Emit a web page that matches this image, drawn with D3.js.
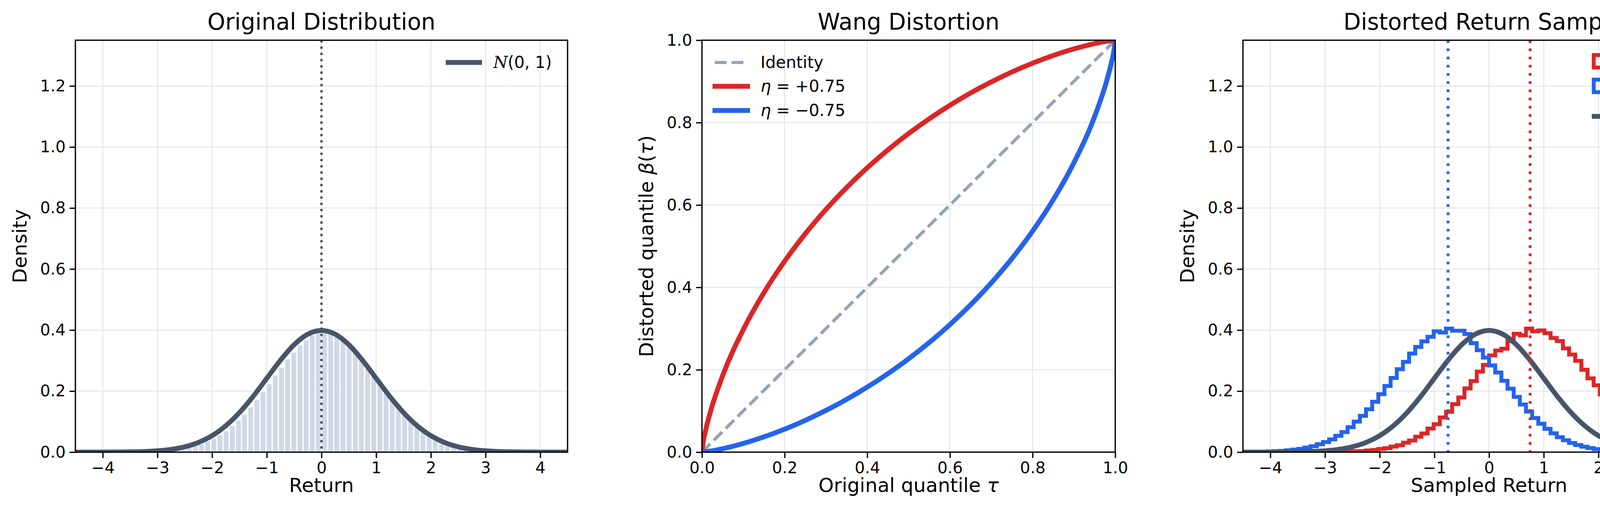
<!DOCTYPE html>
<html><head><meta charset="utf-8">
<script src="https://cdn.jsdelivr.net/npm/d3@7"></script>
<style>body{margin:0;background:#fff}svg{font-family:"DejaVu Sans",sans-serif}</style>
</head><body><svg id="c" width="4470" height="1319"></svg>
<script>
// ---- data ----
const binStart = -4.5, binWidth = 0.1125;
// Panel 1: histogram of original samples (80 bins from -4.5 to 4.5)
const origHist = [0,0,0,0,0.0001,0,0.0002,0.0003,0.0005,0.0008,0.0011,0.0016,0.0022,0.0034,0.0047,0.0066,0.0088,0.0121,0.0159,0.0215,0.0276,0.0360,0.0455,0.0578,0.0710,0.0870,0.1060,0.1250,0.1485,0.1720,0.1990,0.2250,0.2530,0.2790,0.3060,0.3285,0.3510,0.3685,0.3840,0.3930,
0.3980,0.3935,0.3830,0.3695,0.3500,0.3290,0.3060,0.2790,0.2520,0.2260,0.1985,0.1720,0.1490,0.1255,0.1050,0.0875,0.0712,0.0575,0.0455,0.0356,0.0280,0.0212,0.0162,0.0119,0.0090,0.0064,0.0047,0.0033,0.0023,0.0016,0.0011,0.0008,0.0005,0.0003,0.0002,0.0001,0.0001,0,0,0];
// Panel 3: histograms of distorted samples
const redHist = [0,0,0,0,0,0,0,0,0,0,0,0.0001,0.0002,0.0003,0.0005,0.0008,0.0013,0.0018,0.0028,0.0035,0.0054,0.0071,0.0104,0.0130,0.0183,0.0226,0.0310,0.0380,0.0505,0.0610,0.0775,0.0915,0.1135,0.1320,0.1575,0.1790,0.2090,0.2330,0.2640,0.2860,0.3170,0.3330,0.3390,0.3640,0.3880,0.3830,0.4050,0.3960,0.3990,0.3900,0.3740,0.3640,0.3400,0.3200,0.2990,0.2700,0.2420,0.2190,0.1890,0.1660,0.1390,0.1200,0.0980,0.0825,0.0650,0.0540,0.0415,0.0335,0.0250,0.0200,0.0145,0.0112,0.0078,0.0061,0.0040,0.0031,0.0020,0.0014,0.0009,0.0005];
const blueHist = [0.0004,0.0007,0.0010,0.0014,0.0022,0.0030,0.0041,0.0060,0.0083,0.0108,0.0150,0.0195,0.0258,0.0328,0.0420,0.0535,0.0660,0.0820,0.1000,0.1190,0.1405,0.1650,0.1900,0.2170,0.2430,0.2720,0.2960,0.3230,0.3450,0.3630,0.3780,0.3960,0.3920,0.4050,0.3980,0.3980,0.3870,0.3570,0.3340,0.3100,0.2840,0.2610,0.2340,0.2080,0.1810,0.1560,0.1330,0.1120,0.0930,0.0765,0.0618,0.0490,0.0390,0.0300,0.0235,0.0180,0.0134,0.0100,0.0072,0.0052,0.0037,0.0026,0.0018,0.0013,0.0008,0.0005,0.0003,0.0002,0.0001,0.0001,0,0,0,0,0,0,0,0,0,0];
// Standard normal density curve
const normX = [-4.5,-4.25,-4,-3.75,-3.5,-3.25,-3,-2.75,-2.5,-2.25,-2,-1.75,-1.5,-1.25,-1,-0.75,-0.5,-0.25,0,0.25,0.5,0.75,1,1.25,1.5,1.75,2,2.25,2.5,2.75,3,3.25,3.5,3.75,4,4.25,4.5];
const normY = [0.00002,0.00005,0.0001,0.0004,0.0009,0.0020,0.0044,0.0091,0.0175,0.0317,0.0540,0.0863,0.1295,0.1826,0.2420,0.3011,0.3521,0.3867,0.3989,0.3867,0.3521,0.3011,0.2420,0.1826,0.1295,0.0863,0.0540,0.0317,0.0175,0.0091,0.0044,0.0020,0.0009,0.0004,0.0001,0.00005,0.00002];
// Panel 2: Wang distortion
const tau = [0,0.001,0.01,0.02,0.05,0.1,0.15,0.2,0.25,0.3,0.35,0.4,0.45,0.5,0.55,0.6,0.65,0.7,0.75,0.8,0.85,0.9,0.95,0.98,0.99,0.999,1];
const betaPos = [0,0.0096,0.0575,0.0962,0.1855,0.2975,0.3873,0.4635,0.5301,0.5892,0.6423,0.6903,0.7338,0.7734,0.8094,0.8421,0.8719,0.8987,0.9229,0.9443,0.9630,0.9789,0.9917,0.9975,0.9990,0.9999,1];
const betaNeg = [0,0.0001,0.0010,0.0025,0.0083,0.0211,0.0370,0.0557,0.0771,0.1013,0.1281,0.1579,0.1906,0.2266,0.2662,0.3097,0.3577,0.4108,0.4699,0.5365,0.6127,0.7025,0.8145,0.9038,0.9425,0.9904,1];
const etaPos = 0.75, etaNeg = -0.75;
const retTicks = [-4,-3,-2,-1,0,1,2,3,4];
const densTicks = [0,0.2,0.4,0.6,0.8,1.0,1.2];
const qTicks = [0,0.2,0.4,0.6,0.8,1.0];

// ---- drawing ----
const svg = d3.select("#c");
const T = 103, B = 1158;
const C = {slate:"#475569", fill:"#cbd5e1", red:"#dc2626", blue:"#2563eb", id:"#94a3b8", grid:"#e8e8e8"};
const fmt = d3.format(".1f");

function panel(x0, x1, xd, yd, xt, yt, title, xlab, ylab){
  const g = svg.append("g");
  const x = d3.scaleLinear().domain(xd).range([x0,x1]);
  const y = d3.scaleLinear().domain(yd).range([B,T]);
  xt.forEach(t=>g.append("line").attr("x1",x(t)).attr("x2",x(t)).attr("y1",T).attr("y2",B).attr("stroke",C.grid).attr("stroke-width",3));
  yt.forEach(t=>g.append("line").attr("x1",x0).attr("x2",x1).attr("y1",y(t)).attr("y2",y(t)).attr("stroke",C.grid).attr("stroke-width",3));
  const plot = g.append("g");
  const clip = "clip"+Math.round(x0);
  svg.append("clipPath").attr("id",clip).append("rect").attr("x",x0).attr("y",T).attr("width",x1-x0).attr("height",B-T);
  plot.attr("clip-path",`url(#${clip})`);
  const isRet = xd[1]>2;
  const ax = g.append("g").attr("transform",`translate(0,${B})`).call(d3.axisBottom(x).tickValues(xt).tickSize(15).tickPadding(10));
  const ay = g.append("g").attr("transform",`translate(${x0},0)`).call(d3.axisLeft(y).tickValues(yt).tickFormat(fmt).tickSize(15).tickPadding(10));
  [ax,ay].forEach(a=>{a.selectAll("text").attr("font-size",41).attr("font-family","DejaVu Sans").attr("fill","#000");a.selectAll("line").attr("stroke-width",3.3);a.select(".domain").remove();});
  ax.selectAll("text").text(d=>isRet?String(d).replace("-","\u2212"):fmt(d));
  g.append("rect").attr("x",x0).attr("y",T).attr("width",x1-x0).attr("height",B-T).attr("fill","none").attr("stroke","#000").attr("stroke-width",3.3);
  g.append("text").attr("x",(x0+x1)/2).attr("y",76).attr("text-anchor","middle").attr("font-size",58).text(title);
  g.append("text").attr("x",(x0+x1)/2).attr("y",1260).attr("text-anchor","middle").attr("font-size",50).html(xlab);
  g.append("text").attr("transform",`translate(${x0-125},${(T+B)/2}) rotate(-90)`).attr("text-anchor","middle").attr("font-size",50).html(ylab);
  return {g, plot, x, y, legend:g.append("g")};
}
function normLabel(sel,x,y){
  const t = sel.append("text").attr("x",x).attr("y",y+14).attr("font-size",42);
  t.append("tspan").attr("font-family","DejaVu Serif").attr("font-style","italic").text("N");
  t.append("tspan").text("(0, 1)");
}
function etaLabel(sel,x,y,s){
  const t = sel.append("text").attr("x",x).attr("y",y+14).attr("font-size",42);
  t.append("tspan").attr("font-style","italic").text("η");
  t.append("tspan").text(" = "+s);
}
const bins = d3.range(80).map(i=>binStart+i*binWidth);

// Panel 1
const p1 = panel(193,1453,[-4.5,4.5],[0,1.35],retTicks,densTicks,"Original Distribution","Return","Density");
p1.plot.selectAll("rect.b").data(origHist).join("rect")
  .attr("x",(d,i)=>p1.x(bins[i])).attr("width",p1.x(binWidth)-p1.x(0))
  .attr("y",d=>p1.y(d)).attr("height",d=>p1.y(0)-p1.y(d))
  .attr("fill",C.fill).attr("fill-opacity",0.9).attr("stroke","#fff").attr("stroke-width",3);
p1.plot.append("line").attr("x1",p1.x(0)).attr("x2",p1.x(0)).attr("y1",T).attr("y2",B).attr("stroke",C.slate).attr("stroke-width",6).attr("stroke-dasharray","6 10");
const lineN = (p)=>d3.line().x((d,i)=>p.x(normX[i])).y(d=>p.y(d)).curve(d3.curveCatmullRom);
p1.plot.append("path").datum(normY).attr("d",lineN(p1)).attr("fill","none").attr("stroke",C.slate).attr("stroke-width",12.5);
p1.legend.append("line").attr("x1",1141).attr("x2",1234).attr("y1",160).attr("y2",160).attr("stroke",C.slate).attr("stroke-width",12.5);
normLabel(p1.legend,1263,160);

// Panel 2
const p2 = panel(1797,2855,[0,1],[0,1],qTicks,qTicks,"Wang Distortion",
  'Original quantile <tspan font-style="italic">τ</tspan>','Distorted quantile <tspan font-style="italic">β</tspan>(<tspan font-style="italic">τ</tspan>)');
const lq = d3.line().x((d,i)=>p2.x(tau[i])).y(d=>p2.y(d)).curve(d3.curveMonotoneX);
p2.plot.append("path").datum(tau).attr("d",lq).attr("fill","none").attr("stroke",C.id).attr("stroke-width",8).attr("stroke-dasharray","30 13");
p2.plot.append("path").datum(betaPos).attr("d",lq).attr("fill","none").attr("stroke",C.red).attr("stroke-width",12.5);
p2.plot.append("path").datum(betaNeg).attr("d",lq).attr("fill","none").attr("stroke",C.blue).attr("stroke-width",12.5);
p2.legend.append("line").attr("x1",1830).attr("x2",1905).attr("y1",160).attr("y2",160).attr("stroke",C.id).attr("stroke-width",8).attr("stroke-dasharray","30 13");
p2.legend.append("line").attr("x1",1824).attr("x2",1920).attr("y1",221).attr("y2",221).attr("stroke",C.red).attr("stroke-width",12.5);
p2.legend.append("line").attr("x1",1824).attr("x2",1920).attr("y1",283).attr("y2",283).attr("stroke",C.blue).attr("stroke-width",12.5);
p2.legend.append("text").attr("x",1947).attr("y",174).attr("font-size",42).text("Identity");
etaLabel(p2.legend,1947,221,"+0.75");
etaLabel(p2.legend,1947,283,"\u22120.75");

// Panel 3
const p3 = panel(3182,4442,[-4.5,4.5],[0,1.35],retTicks,densTicks,"Distorted Return Samples","Sampled Return","Density");
function stepPath(p,h){
  const pts=[[bins[0],0]];
  h.forEach((v,i)=>{pts.push([bins[i],v]);pts.push([bins[i]+binWidth,v]);});
  pts.push([bins[79]+binWidth,0]);
  return d3.line().x(d=>p.x(d[0])).y(d=>p.y(d[1]))(pts);
}
p3.plot.append("path").attr("d",stepPath(p3,redHist)).attr("fill","none").attr("stroke",C.red).attr("stroke-width",10);
p3.plot.append("path").attr("d",stepPath(p3,blueHist)).attr("fill","none").attr("stroke",C.blue).attr("stroke-width",10);
p3.plot.append("path").datum(normY).attr("d",lineN(p3)).attr("fill","none").attr("stroke",C.slate).attr("stroke-width",12.5);
[[etaPos,C.red],[etaNeg,C.blue]].forEach(([v,c])=>p3.plot.append("line").attr("x1",p3.x(v)).attr("x2",p3.x(v)).attr("y1",T).attr("y2",B).attr("stroke",c).attr("stroke-width",7).attr("stroke-dasharray","7 14"));
p3.legend.append("rect").attr("x",4080).attr("y",141).attr("width",83).attr("height",32).attr("fill","none").attr("stroke",C.red).attr("stroke-width",10);
p3.legend.append("rect").attr("x",4080).attr("y",204).attr("width",83).attr("height",32).attr("fill","none").attr("stroke",C.blue).attr("stroke-width",10);
p3.legend.append("line").attr("x1",4075).attr("x2",4168).attr("y1",298).attr("y2",298).attr("stroke",C.slate).attr("stroke-width",12.5);
etaLabel(p3.legend,4198,157,"+0.75");
etaLabel(p3.legend,4198,220,"\u22120.75");
normLabel(p3.legend,4198,298);
</script></body></html>
